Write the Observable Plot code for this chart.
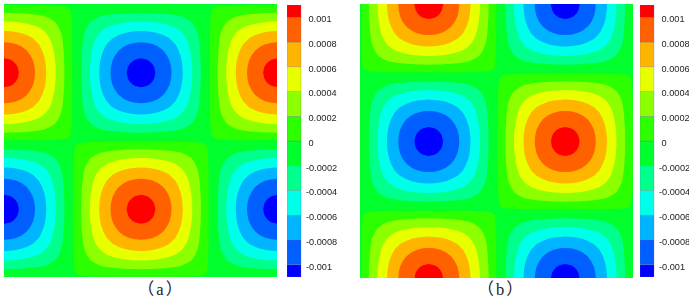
<!DOCTYPE html>
<html lang="zh-CN">
<head>
<meta charset="utf-8">
<script src="https://cdn.jsdelivr.net/npm/d3@7"></script>
<script src="https://cdn.jsdelivr.net/npm/@observablehq/plot@0.6"></script>
<style>
html,body{margin:0;padding:0;background:#fff}
#chart{position:relative;width:689px;height:298px;overflow:hidden}
#chart svg{position:absolute;display:block;background:none;overflow:hidden}
.cap{position:absolute;top:280.5px;width:80px;text-align:center;font:16.5px/17px "Liberation Serif","Noto Sans CJK SC",serif;letter-spacing:2px;color:#222}
</style>
</head>
<body>
<div id="chart"></div>
<script>
// Field magnitude (units of 1e-6) sampled from a cell centre outward to the cell edge,
// 12 steps per half cell, read from the band edges of the picture.
const quarterCell = [
[1060,1052,1028,975,909,833,742,639,525,402,272,137],
[1052,1045,1018,960,901,825,736,633,520,399,269,136],
[1028,1018,985,937,878,805,718,620,509,390,265,134],
[975,960,937,897,841,772,690,595,490,377,255,130],
[909,901,878,841,790,727,652,564,466,359,246,125],
[833,825,805,772,727,670,604,525,435,339,234,119],
[742,736,718,690,652,604,548,479,400,314,218,112],
[639,633,620,595,564,525,479,420,354,280,197,102],
[525,520,509,490,466,435,400,354,299,238,169,88],
[402,399,390,377,359,339,314,280,238,192,138,73],
[272,269,265,255,246,234,218,197,169,138,100,53],
[137,136,134,130,125,119,112,102,88,73,53,28]
];
const latticeValue = -18;
const stepsPerCell = 24;
const gridPad = 2;

const bandEdges = [-1100,-1000,-800,-600,-400,-200,0,200,400,600,800,1000,1100];
const bandColors = ["#0000ff","#0060ff","#00b4ff","#00ffe8","#00ff8c","#00ff2c","#2cff00","#8cff00","#e8ff00","#ffb400","#ff6000","#ff0000"];
const tickValues = [1000,800,600,400,200,0,-200,-400,-600,-800,-1000];
const tickLabels = ["0.001","0.0008","0.0006","0.0004","0.0002","0","-0.0002","-0.0004","-0.0006","-0.0008","-0.001"];
const panels = [
  {caption:"（a）", shiftX:0, shiftY:12, left:4, top:4, width:273, height:273, barLeft:287, capLeft:121},
  {caption:"（b）", shiftX:12, shiftY:0, left:360, top:4, width:273, height:274, barLeft:640, capLeft:461}
];

function fieldGrid(shiftX, shiftY) {
  const values = [];
  for (let l = -gridPad; l <= 2*stepsPerCell + gridPad; l++) {
    for (let k = -gridPad; k <= 2*stepsPerCell + gridPad; k++) {
      const u = k + shiftX, v = l + shiftY;
      const ix = Math.round(u/stepsPerCell), iy = Math.round(v/stepsPerCell);
      const i = Math.abs(u - ix*stepsPerCell), j = Math.abs(v - iy*stepsPerCell);
      if (i === stepsPerCell/2 || j === stepsPerCell/2) values.push(latticeValue);
      else values.push(((ix + iy) % 2 === 0 ? -1 : 1) * quarterCell[j][i]);
    }
  }
  return values;
}

const chart = document.getElementById("chart");
const colorScale = {type:"threshold", domain:bandEdges.slice(1,-1), range:bandColors};
const bands = bandColors.map((c,i)=>({lo:bandEdges[i], hi:bandEdges[i+1], c}));
const ticks = tickValues.map((v,i)=>({v, label:tickLabels[i]}));

for (const p of panels) {
  const n = 2*stepsPerCell + 2*gridPad + 1;
  const lo = (-gridPad-0.5)/stepsPerCell, hi = (2*stepsPerCell+gridPad+0.5)/stepsPerCell;
  const field = Plot.plot({
    width:p.width, height:p.height, margin:0,
    x:{domain:[0,2], axis:null}, y:{domain:[0,2], range:[0,p.height], axis:null},
    color:colorScale,
    marks:[
      Plot.contour(fieldGrid(p.shiftX,p.shiftY), {
        width:n, height:n, x1:lo, x2:hi, y1:lo, y2:hi,
        fill:Plot.identity, thresholds:bandEdges.slice(0,-1), stroke:null, clip:true
      })
    ]
  });
  field.style.left = p.left+"px"; field.style.top = p.top+"px"; field.style.filter="blur(0.5px)";
  chart.appendChild(field);

  const bar = Plot.plot({
    width:64, height:272, marginTop:0, marginBottom:0, marginLeft:0, marginRight:50,
    x:{domain:[0,1], axis:null},
    y:{domain:[-1100,1100], axis:null},
    marks:[
      Plot.rectY(bands, {x1:0, x2:1, y1:"lo", y2:"hi", fill:d=>d.c, stroke:"#6a6a9a", strokeWidth:0.5, strokeOpacity:0.5}),
      Plot.text(ticks.filter(d=>d.v>=0), {x:1, y:"v", text:"label", textAnchor:"start", dx:7, dy:1.5, fontSize:9.2, fontFamily:"Liberation Sans, Arial", fill:"#222"}),
      Plot.text(ticks.filter(d=>d.v<0), {x:1, y:"v", text:"label", textAnchor:"start", dx:4.5, dy:1.5, fontSize:9.2, fontFamily:"Liberation Sans, Arial", fill:"#222"})
    ]
  });
  bar.style.left = p.barLeft+"px"; bar.style.top = "5px"; bar.style.filter="blur(0.3px)";
  chart.appendChild(bar);

  const cap = document.createElement("div");
  cap.className = "cap"; cap.textContent = p.caption; cap.style.left = p.capLeft+"px";
  chart.appendChild(cap);
}
</script>
</body>
</html>
